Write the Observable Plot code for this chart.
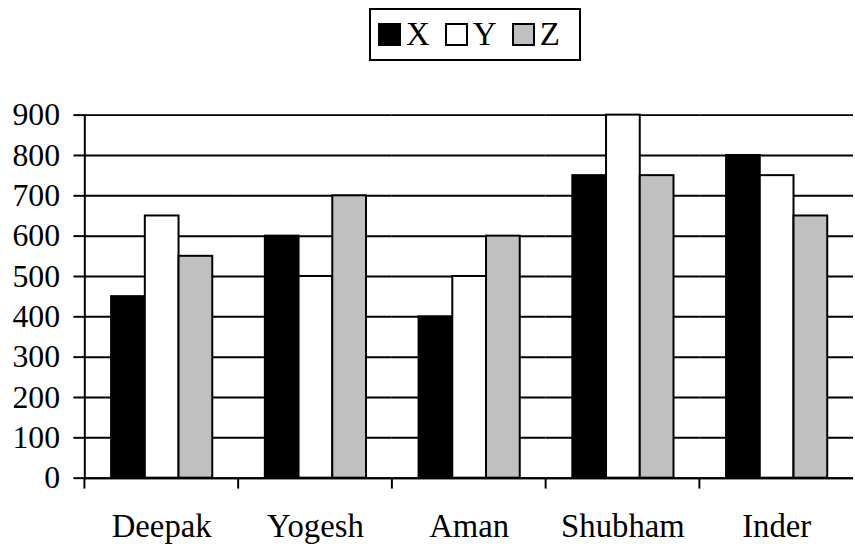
<!DOCTYPE html>
<html>
<head>
<meta charset="utf-8">
<script src="https://cdn.jsdelivr.net/npm/d3@7"></script>
<script src="https://cdn.jsdelivr.net/npm/@observablehq/plot@0.6"></script>
<style>
  html, body { margin: 0; padding: 0; background: #fff; overflow: hidden; }
  body { width: 855px; height: 549px; position: relative; }
  #legend {
    position: absolute; left: 369px; top: 8px; width: 201px; height: 49px;
    border: 2px solid #000; display: flex; align-items: center;
    font-size: 33px; color: #000;
    padding-left: 7px; box-sizing: content-box;
  }
  #legend .item { display: flex; align-items: center; margin-right: 15px; }
  #legend .sw { width: 19px; height: 19px; border: 2px solid #000; margin-right: 5px; }
  #chart { position: absolute; left: 0; top: 70px; }
</style>
</head>
<body>
<div id="legend" style="font-family:'Liberation Serif'"></div>
<div id="chart"></div>
<script>
const names = ["Deepak", "Yogesh", "Aman", "Shubham", "Inder"];
const series = ["X", "Y", "Z"];
const xValues = [450, 600, 400, 750, 800];
const yValues = [650, 500, 500, 900, 750];
const zValues = [550, 700, 600, 750, 650];
const seriesColors = ["#000000", "#ffffff", "#c0c0c0"];
const yTicks = [0, 100, 200, 300, 400, 500, 600, 700, 800, 900];

const valuesBySeries = [xValues, yValues, zValues];
const rows = [];
names.forEach((n, i) => series.forEach((s, j) => rows.push({name: n, series: s, value: valuesBySeries[j][i]})));

// legend
const legend = document.getElementById("legend");
series.forEach((s, j) => {
  const it = document.createElement("div");
  it.className = "item";
  const sw = document.createElement("div");
  sw.className = "sw";
  sw.style.background = seriesColors[j];
  const t = document.createElement("span");
  t.textContent = s;
  t.style.fontFamily = "Liberation Serif";
  it.appendChild(sw); it.appendChild(t);
  legend.appendChild(it);
});

const width = 862, height = 479, mL = 83, mR = 0;
const step = (width - mL - mR) / names.length;

const chart = Plot.plot({
  width, height,
  marginLeft: mL, marginRight: mR, marginTop: 45, marginBottom: 68,
  style: {fontSize: "32px", color: "black", background: "white", overflow: "visible"},
  fx: {domain: names, padding: 0, axis: null, label: null},
  x: {domain: series, paddingInner: 0, paddingOuter: 0.725, axis: null, label: null},
  y: {domain: [0, 900], axis: null, label: null},
  color: {domain: series, range: seriesColors},
  marks: [
    Plot.gridY(yTicks, {stroke: "black", strokeOpacity: 1, strokeWidth: 2}),
    Plot.barY(rows, {fx: "name", x: "series", y: "value", fill: "series", stroke: "black", strokeWidth: 2}),
    Plot.ruleY([0], {stroke: "black", strokeWidth: 2}),
    Plot.frame({anchor: "left", facetAnchor: "left", stroke: "black", strokeWidth: 2}),
    Plot.axisY(yTicks, {tickSize: 11, tickPadding: 14, fontSize: 32, strokeWidth: 2, label: null}),
    Plot.axisFx({anchor: "bottom", tickSize: 11, tickFormat: () => "", dx: -step / 2, strokeWidth: 2, label: null}),
    Plot.axisFx({anchor: "bottom", tickSize: 0, tickPadding: 36, fontSize: 33, label: null})
  ]
});
chart.setAttribute("font-family", "Liberation Serif");
chart.style.fontFamily = "Liberation Serif";
chart.querySelectorAll("g, text").forEach(el => {
  el.removeAttribute("font-family");
  el.style.fontFamily = "Liberation Serif";
});
document.getElementById("chart").appendChild(chart);
</script>
</body>
</html>
